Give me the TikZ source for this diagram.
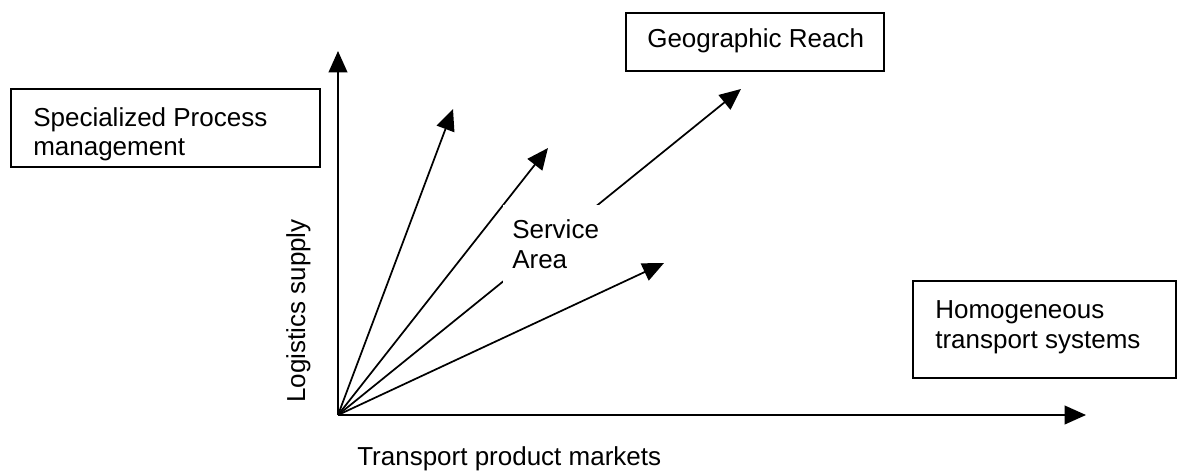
\documentclass[tikz,border=0pt]{standalone}
\usepackage{fontspec}
\setmainfont{Liberation Sans}
\usetikzlibrary{arrows.meta,fit}
\begin{document}
\begin{tikzpicture}[x=0.75pt,y=-0.75pt,
  frame/.style={draw=black, line width=1.3pt, inner sep=0pt},
  lbl/.style={font=\fontsize{19.5}{22}\selectfont, inner sep=0pt, anchor=base west, align=left},
  arr/.style={line width=1.3pt, -{Triangle[length=16pt,width=14pt]}},
]
\useasboundingbox (0,0) rectangle (1180,474);
% frames
\node[frame, fit={(11,89) (320,167)}] (spmbox) {};
\node[frame, fit={(626,13) (884,71)}] (geobox) {};
\node[frame, fit={(913,281) (1176,378)}] (homobox) {};
% frame texts (base anchor = last line)
\node[lbl] (spm) at (33,156) {Specialized Process\\management};
\node[lbl] (geo) at (647,48) {Geographic Reach};
\node[lbl] (homo) at (935,348) {Homogeneous\\transport systems};
% axes
\coordinate (O) at (338,415);
\coordinate (ytip) at (338,51);
\coordinate (xtip) at (1086,415);
\coordinate (atip) at (453,109);
\coordinate (btip) at (548,148);
\coordinate (ctip) at (664,263);
\coordinate (gtip) at (741,89);
\draw[arr] (O) -- (ytip);
\draw[arr] (O) -- (xtip);
\draw[arr] (O) -- (atip);
\draw[arr] (O) -- (btip);
\draw[arr] (O) -- (ctip);
\draw[arr] (O) -- (gtip);
% service area label covering the geographic line
\node[fill=white, inner sep=0pt, minimum width=81pt, minimum height=58pt, anchor=north west] (sabg) at (503,205) {};
\node[lbl] (sa) at (512,268) {Service\\Area};
% axis labels
\node[lbl, rotate=90] (ly) at (305,403) {Logistics supply};
\node[lbl] (tx) at (357,465) {Transport product markets};
\end{tikzpicture}
\end{document}
